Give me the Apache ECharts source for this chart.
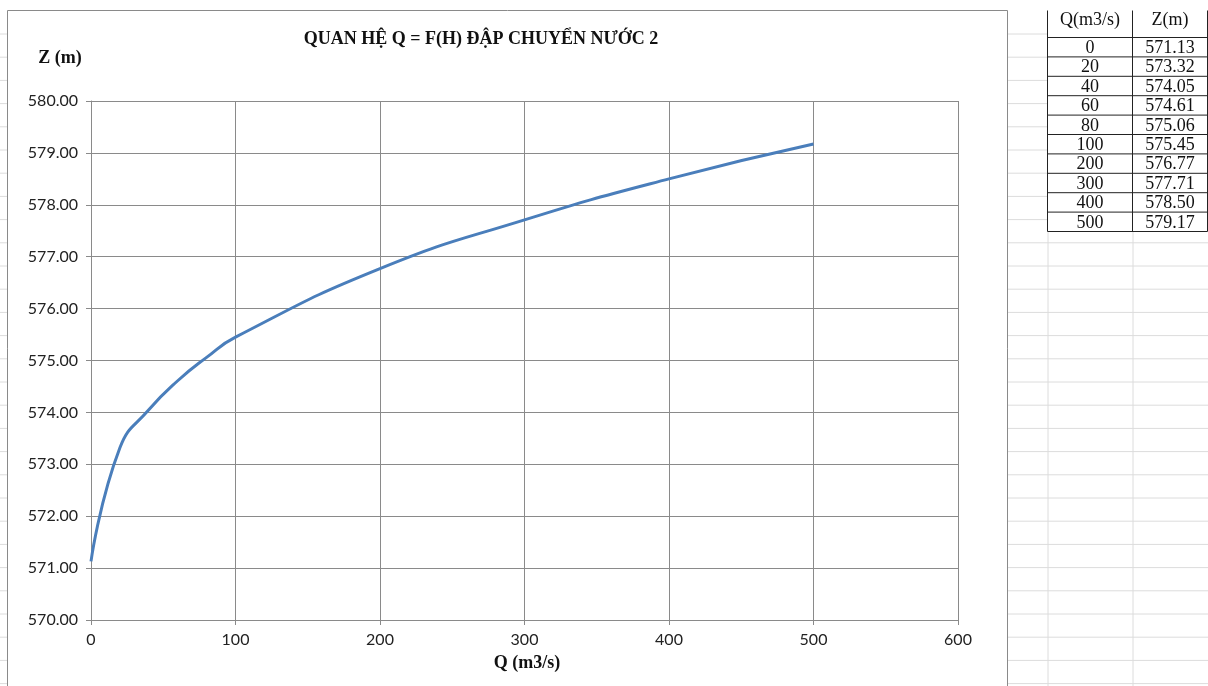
<!DOCTYPE html>
<html>
<head>
<meta charset="utf-8">
<script src="https://cdn.jsdelivr.net/npm/echarts@6/dist/echarts.min.js"></script>
<style>
  html, body { margin: 0; padding: 0; background: #fff; }
  #main { width: 1208px; height: 686px; }
</style>
</head>
<body>
<div id="main"></div>
<script>
// du lieu quan he Q - Z
var qValues = [0, 20, 40, 60, 80, 100, 200, 300, 400, 500];
var zValues = [571.13, 573.32, 574.05, 574.61, 575.06, 575.45, 576.77, 577.71, 578.50, 579.17];
var tableHeader = ['Q(m3/s)', 'Z(m)'];

var chartDom = document.getElementById('main');
var myChart = echarts.init(chartDom);

var serif = '"Liberation Serif", "DejaVu Serif", serif';
var sans = 'Lato, "Open Sans", sans-serif';

// o luoi excel phia sau
var graphics = [];
var faint = '#dcdcdc';
for (var y = 34; y < 686; y += 23.2) {
    graphics.push({ type: 'line', shape: { x1: 1008, y1: y, x2: 1047, y2: y }, style: { stroke: faint, lineWidth: 1 }, silent: true });
    graphics.push({ type: 'line', shape: { x1: 0, y1: y, x2: 7, y2: y }, style: { stroke: faint, lineWidth: 1 }, silent: true });
    if (y > 240) {
        graphics.push({ type: 'line', shape: { x1: 1047, y1: y, x2: 1208, y2: y }, style: { stroke: faint, lineWidth: 1 }, silent: true });
    }
}
graphics.push({ type: 'line', shape: { x1: 1048, y1: 232, x2: 1048, y2: 686 }, style: { stroke: faint, lineWidth: 1 }, silent: true });
graphics.push({ type: 'line', shape: { x1: 1133, y1: 232, x2: 1133, y2: 686 }, style: { stroke: faint, lineWidth: 1 }, silent: true });

// khung bieu do
graphics.push({ type: 'rect', shape: { x: 7.5, y: 10.5, width: 1000, height: 700 }, style: { fill: '#fff', stroke: '#8a8a8a', lineWidth: 1 }, silent: true, z: -1 });

// bang so lieu
var tx = [1047.5, 1132.5, 1207.5];
var headTop = 10.5, headBottom = 37.5, rowH = 19.4;
var rowLines = [headTop, headBottom];
for (var i = 0; i < qValues.length; i++) rowLines.push(headBottom + (i + 1) * rowH);
var tableBottom = rowLines[rowLines.length - 1];
rowLines.forEach(function (ly, k) {
    if (k === 0) return;
    graphics.push({ type: 'line', shape: { x1: tx[0], y1: ly, x2: tx[2], y2: ly }, style: { stroke: '#222', lineWidth: 1 }, silent: true });
});
tx.forEach(function (lx) {
    graphics.push({ type: 'line', shape: { x1: lx, y1: headTop, x2: lx, y2: tableBottom }, style: { stroke: '#222', lineWidth: 1 }, silent: true });
});
var cellFont = '18px ' + serif;
graphics.push({ type: 'text', style: { text: tableHeader[0], x: (tx[0] + tx[1]) / 2, y: 20, align: 'center', verticalAlign: 'middle', font: cellFont, fill: '#111' } });
graphics.push({ type: 'text', style: { text: tableHeader[1], x: (tx[1] + tx[2]) / 2, y: 20, align: 'center', verticalAlign: 'middle', font: cellFont, fill: '#111' } });
for (var j = 0; j < qValues.length; j++) {
    var cy = headBottom + j * rowH + rowH / 2 + 1;
    graphics.push({ type: 'text', style: { text: String(qValues[j]), x: (tx[0] + tx[1]) / 2, y: cy, align: 'center', verticalAlign: 'middle', font: cellFont, fill: '#111' } });
    graphics.push({ type: 'text', style: { text: zValues[j].toFixed(2), x: (tx[1] + tx[2]) / 2, y: cy, align: 'center', verticalAlign: 'middle', font: cellFont, fill: '#111' } });
}

var option = {
    backgroundColor: '#fff',
    animation: false,
    title: {
        text: 'QUAN HỆ Q = F(H) ĐẬP CHUYỂN NƯỚC 2',
        left: 476,
        top: 25,
        textAlign: 'center',
        textStyle: { fontFamily: serif, fontSize: 18, fontWeight: 'bold', color: '#111' }
    },
    graphic: graphics.concat([
        { type: 'text', z: 10, style: { text: 'Z (m)', x: 60, y: 58, align: 'center', verticalAlign: 'middle', font: 'bold 18px ' + serif, fill: '#111' } },
        { type: 'text', z: 10, style: { text: 'Q (m3/s)', x: 527, y: 663, align: 'center', verticalAlign: 'middle', font: 'bold 18px ' + serif, fill: '#111' } }
    ]),
    grid: {
        left: 91,
        top: 101,
        width: 867,
        height: 519,
        containLabel: false
    },
    xAxis: {
        type: 'value',
        min: 0,
        max: 600,
        interval: 100,
        axisLine: { show: true, lineStyle: { color: '#8a8a8a', width: 1 } },
        axisTick: { show: true, length: 5, lineStyle: { color: '#8a8a8a' } },
        axisLabel: { margin: 12, fontFamily: sans, fontSize: 16, color: '#222' },
        splitLine: { show: true, lineStyle: { color: '#8a8a8a', width: 1 } }
    },
    yAxis: {
        type: 'value',
        min: 570,
        max: 580,
        interval: 1,
        axisLine: { show: true, lineStyle: { color: '#8a8a8a', width: 1 } },
        axisTick: { show: true, length: 5, lineStyle: { color: '#8a8a8a' } },
        axisLabel: {
            margin: 13,
            fontFamily: sans,
            fontSize: 16,
            color: '#222',
            formatter: function (v) { return v.toFixed(2); }
        },
        splitLine: { show: true, lineStyle: { color: '#8a8a8a', width: 1 } }
    },
    series: [
        {
            type: 'line',
            data: qValues.map(function (q, i) { return [q, zValues[i]]; }),
            smooth: 0.5,
            symbol: 'none',
            lineStyle: { color: '#4a7ebb', width: 3 }
        }
    ]
};

option && myChart.setOption(option);
</script>
</body>
</html>
